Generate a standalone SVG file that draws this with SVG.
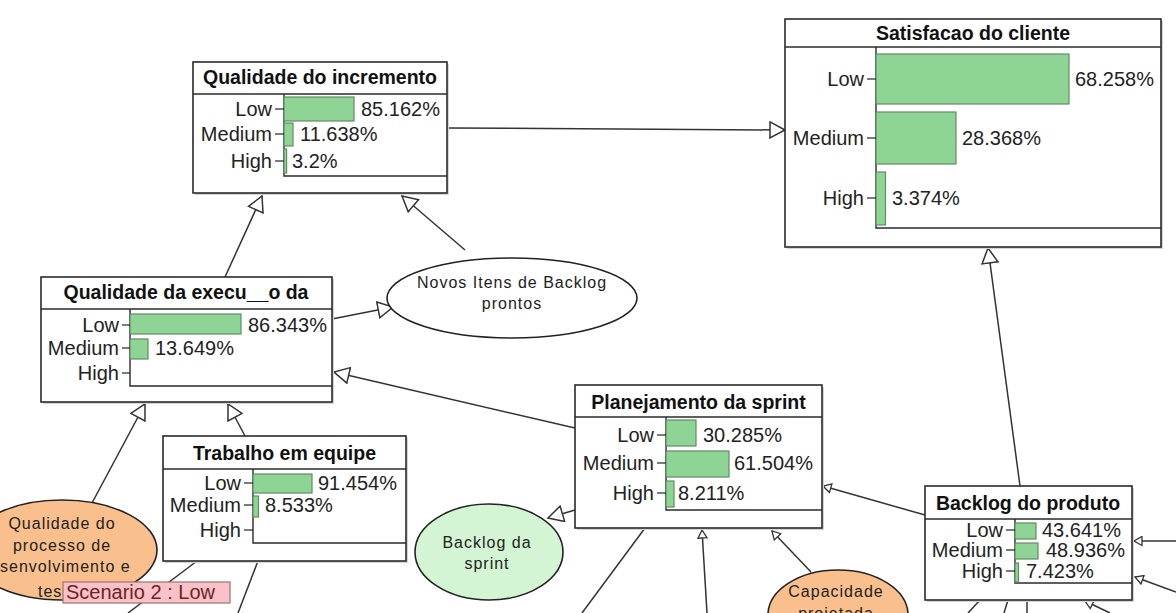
<svg xmlns="http://www.w3.org/2000/svg" width="1176" height="613" viewBox="0 0 1176 613">
<style>
.box{fill:#fff;stroke:#2a2a2a;stroke-width:1.6}
.shadow{fill:#d4d4d4}
.sep{stroke:#2a2a2a;stroke-width:1.4;fill:none}
.title{font-family:"Liberation Sans",Arial,sans-serif;font-weight:bold;font-size:19.5px;fill:#111;text-anchor:middle}
.lab{font-family:"Liberation Sans",Arial,sans-serif;font-size:20px;fill:#222;text-anchor:end}
.pct{font-family:"Liberation Sans",Arial,sans-serif;font-size:20px;fill:#222}
.bar{fill:#8ed494;stroke:#5f8c63;stroke-width:1.2}
.tick{stroke:#222;stroke-width:1.2}
.conn{stroke:#333;stroke-width:1.5;fill:none}
.etext{font-family:"Liberation Sans",Arial,sans-serif;font-size:16px;fill:#222;text-anchor:middle;letter-spacing:1px}
</style>
<defs>
<marker id="big" markerUnits="userSpaceOnUse" markerWidth="18" markerHeight="18" refX="15" refY="8" orient="auto" viewBox="-1 -1 18 18">
<path d="M0,0 L15,8 L0,16 Z" fill="#fff" stroke="#333" stroke-width="1.5"/>
</marker>
<marker id="small" markerUnits="userSpaceOnUse" markerWidth="11" markerHeight="11" refX="8" refY="4.5" orient="auto" viewBox="-1 -1 11 11">
<path d="M0,0 L8,4.5 L0,9 Z" fill="#fff" stroke="#333" stroke-width="1.3"/>
</marker>
</defs>
<rect width="1176" height="613" fill="#fff"/>

<g id="connectors">
<path class="conn" d="M447,128 L785,130" marker-end="url(#big)"/>
<path class="conn" d="M465,250 L402,196" marker-end="url(#big)"/>
<path class="conn" d="M225,277 L262,196" marker-end="url(#big)"/>
<path class="conn" d="M332,319 L393,307" marker-end="url(#big)"/>
<path class="conn" d="M575,428 L334,372" marker-end="url(#big)"/>
<path class="conn" d="M245,436 L228,404" marker-end="url(#big)"/>
<path class="conn" d="M92,503 L145,404" marker-end="url(#big)"/>
<path class="conn" d="M575,510 L548,518" marker-end="url(#big)"/>
<path class="conn" d="M1020,486 L988,248" marker-end="url(#big)"/>
<path class="conn" d="M925,515 L823,486" marker-end="url(#small)"/>
<path class="conn" d="M707,613 L702,530" marker-end="url(#small)"/>
<path class="conn" d="M811,572 L772,531" marker-end="url(#small)"/>
<path class="conn" d="M645,528 L582,613"/>
<path class="conn" d="M197,561 L128,613"/>
<path class="conn" d="M258,561 L238,613"/>
<path class="conn" d="M1176,541 L1134,541" marker-end="url(#small)"/>
<path class="conn" d="M1176,592 L1135,577" marker-end="url(#small)"/>
<path class="conn" d="M980,600 L968,613"/>
<path class="conn" d="M1008,600 L1004,613"/>
<path class="conn" d="M1027,600 L1027,613"/>
<path class="conn" d="M1110,613 L1085,601" marker-end="url(#small)"/>
</g>

<g id="node-qualidade-incremento">
<rect class="shadow" x="195" y="64" width="254" height="131"/>
<rect class="box" x="193" y="62" width="254" height="131"/>
<line class="sep" x1="193" y1="94" x2="447" y2="94"/>
<path class="sep" d="M284,94 L284,176 L447,176"/>
<text class="title" x="320" y="84">Qualidade do incremento</text>
<rect class="bar" x="284" y="97" width="70" height="24"/>
<rect class="bar" x="284" y="123" width="9" height="23"/>
<rect class="bar" x="284" y="149" width="2.6" height="24"/>
<line class="tick" x1="275" y1="109" x2="284" y2="109"/>
<line class="tick" x1="275" y1="134" x2="284" y2="134"/>
<line class="tick" x1="275" y1="161" x2="284" y2="161"/>
<text class="lab" x="272" y="116">Low</text>
<text class="lab" x="272" y="141">Medium</text>
<text class="lab" x="272" y="168">High</text>
<text class="pct" x="361" y="116">85.162%</text>
<text class="pct" x="300" y="141">11.638%</text>
<text class="pct" x="292" y="168">3.2%</text>
</g>

<g id="node-satisfacao-cliente">
<rect class="shadow" x="787" y="21" width="376" height="228"/>
<rect class="box" x="785" y="19" width="376" height="228"/>
<line class="sep" x1="785" y1="47" x2="1161" y2="47"/>
<path class="sep" d="M876,47 L876,228 L1161,228"/>
<text class="title" x="973" y="40">Satisfacao do cliente</text>
<rect class="bar" x="876" y="54" width="193" height="50"/>
<rect class="bar" x="876" y="112" width="80" height="52"/>
<rect class="bar" x="876" y="172" width="9.5" height="53"/>
<line class="tick" x1="867" y1="79" x2="876" y2="79"/>
<line class="tick" x1="867" y1="138" x2="876" y2="138"/>
<line class="tick" x1="867" y1="198" x2="876" y2="198"/>
<text class="lab" x="864" y="86">Low</text>
<text class="lab" x="864" y="145">Medium</text>
<text class="lab" x="864" y="205">High</text>
<text class="pct" x="1075" y="86">68.258%</text>
<text class="pct" x="962" y="145">28.368%</text>
<text class="pct" x="892" y="205">3.374%</text>
</g>

<g id="node-qualidade-execucao">
<rect class="shadow" x="43" y="279" width="291" height="125"/>
<rect class="box" x="41" y="277" width="291" height="125"/>
<line class="sep" x1="41" y1="309" x2="332" y2="309"/>
<path class="sep" d="M130,309 L130,386 L332,386"/>
<text class="title" x="186" y="299">Qualidade da execu__o da</text>
<rect class="bar" x="130" y="314" width="111" height="20"/>
<rect class="bar" x="130" y="339" width="18" height="20"/>
<line class="tick" x1="122" y1="325" x2="130" y2="325"/>
<line class="tick" x1="122" y1="348" x2="130" y2="348"/>
<line class="tick" x1="122" y1="373" x2="130" y2="373"/>
<text class="lab" x="119" y="332">Low</text>
<text class="lab" x="119" y="355">Medium</text>
<text class="lab" x="119" y="380">High</text>
<text class="pct" x="248" y="332">86.343%</text>
<text class="pct" x="155" y="355">13.649%</text>
</g>

<g id="node-trabalho-equipe">
<rect class="shadow" x="165" y="438" width="243" height="125"/>
<rect class="box" x="163" y="436" width="243" height="125"/>
<line class="sep" x1="163" y1="469" x2="406" y2="469"/>
<path class="sep" d="M253,469 L253,543 L406,543"/>
<text class="title" x="284.5" y="460">Trabalho em equipe</text>
<rect class="bar" x="253" y="474" width="59" height="19"/>
<rect class="bar" x="253" y="496" width="5.5" height="21"/>
<line class="tick" x1="244" y1="483" x2="253" y2="483"/>
<line class="tick" x1="244" y1="505" x2="253" y2="505"/>
<line class="tick" x1="244" y1="530" x2="253" y2="530"/>
<text class="lab" x="241" y="490">Low</text>
<text class="lab" x="241" y="512">Medium</text>
<text class="lab" x="241" y="537">High</text>
<text class="pct" x="318" y="490">91.454%</text>
<text class="pct" x="265" y="512">8.533%</text>
</g>

<g id="node-planejamento-sprint">
<rect class="shadow" x="577" y="387" width="247" height="143"/>
<rect class="box" x="575" y="385" width="247" height="143"/>
<line class="sep" x1="575" y1="417" x2="822" y2="417"/>
<path class="sep" d="M666,417 L666,510 L822,510"/>
<text class="title" x="698.5" y="409">Planejamento da sprint</text>
<rect class="bar" x="666" y="420" width="30" height="26"/>
<rect class="bar" x="666" y="451" width="63" height="26"/>
<rect class="bar" x="666" y="481" width="8" height="26"/>
<line class="tick" x1="657" y1="435" x2="666" y2="435"/>
<line class="tick" x1="657" y1="463" x2="666" y2="463"/>
<line class="tick" x1="657" y1="493" x2="666" y2="493"/>
<text class="lab" x="654" y="442">Low</text>
<text class="lab" x="654" y="470">Medium</text>
<text class="lab" x="654" y="500">High</text>
<text class="pct" x="703" y="442">30.285%</text>
<text class="pct" x="734" y="470">61.504%</text>
<text class="pct" x="678" y="500">8.211%</text>
</g>

<g id="node-backlog-produto">
<rect class="shadow" x="927" y="488" width="207" height="114"/>
<rect class="box" x="925" y="486" width="207" height="114"/>
<line class="sep" x1="925" y1="519" x2="1132" y2="519"/>
<path class="sep" d="M1015,519 L1015,583 L1132,583"/>
<text class="title" x="1028" y="510">Backlog do produto</text>
<rect class="bar" x="1015" y="523" width="21" height="16"/>
<rect class="bar" x="1015" y="543" width="23" height="16"/>
<rect class="bar" x="1015" y="563" width="3.5" height="19"/>
<line class="tick" x1="1006" y1="530" x2="1015" y2="530"/>
<line class="tick" x1="1006" y1="550" x2="1015" y2="550"/>
<line class="tick" x1="1006" y1="571" x2="1015" y2="571"/>
<text class="lab" x="1003" y="537">Low</text>
<text class="lab" x="1003" y="557">Medium</text>
<text class="lab" x="1003" y="578">High</text>
<text class="pct" x="1042" y="537">43.641%</text>
<text class="pct" x="1046" y="557">48.936%</text>
<text class="pct" x="1026" y="578">7.423%</text>
</g>

<g id="node-novos-itens">
<ellipse cx="512" cy="298" rx="125" ry="40" fill="#fff" stroke="#222" stroke-width="1.6"/>
<text class="etext" x="512" y="288">Novos Itens de Backlog</text>
<text class="etext" x="512" y="309">prontos</text>
</g>

<g id="node-backlog-sprint">
<ellipse cx="489" cy="552" rx="74" ry="48" fill="#d3f5d3" stroke="#222" stroke-width="1.6"/>
<text class="etext" x="487" y="548">Backlog da</text>
<text class="etext" x="487" y="569">sprint</text>
</g>

<g id="node-qualidade-processo">
<ellipse cx="62" cy="550" rx="95" ry="50" fill="#f9c08e" stroke="#222" stroke-width="1.6"/>
<text class="etext" x="62" y="529">Qualidade do</text>
<text class="etext" x="62" y="551">processo de</text>
<text class="etext" x="0" y="572" style="text-anchor:start">senvolvimento e</text>
<text class="etext" x="38" y="597" style="text-anchor:start">tes</text>
</g>

<g id="node-capacidade">
<ellipse cx="838" cy="615" rx="70" ry="45" fill="#f9c08e" stroke="#222" stroke-width="1.6"/>
<text class="etext" x="836" y="597">Capacidade</text>
<text class="etext" x="836" y="619">projetada</text>
</g>

<g id="scenario-label">
<rect x="63" y="582" width="167" height="21" fill="#f9c2c8" stroke="#a07070" stroke-width="1.2"/>
<text x="66" y="599" font-family="Liberation Sans, Arial, sans-serif" font-size="20" fill="#6e2424">Scenario 2 : Low</text>
</g>
</svg>
